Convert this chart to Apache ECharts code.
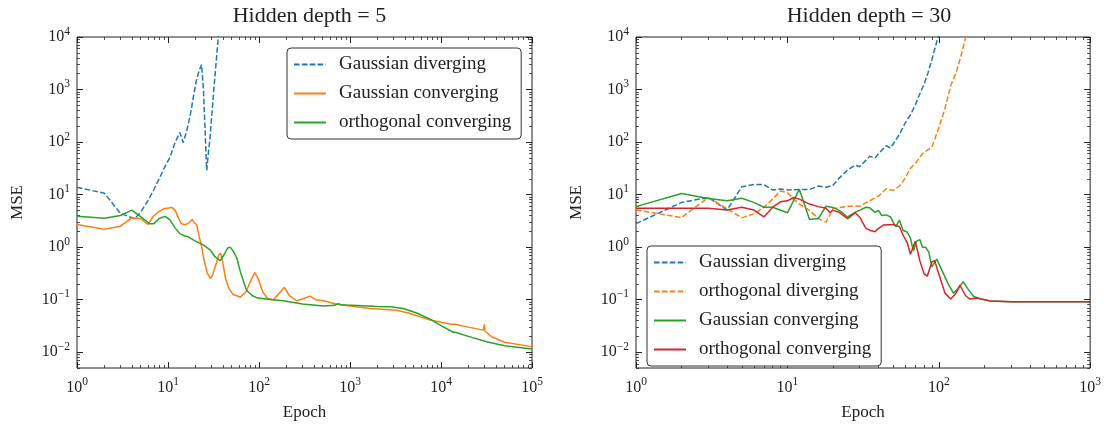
<!DOCTYPE html>
<html><head><meta charset="utf-8">
<script src="https://cdn.jsdelivr.net/npm/echarts@6/dist/echarts.min.js"></script>
<style>html,body{margin:0;padding:0;background:#fff}#c{width:1104px;height:426px}</style>
</head><body><div id="c"></div>
<script>
const FONT = '"Liberation Serif", "DejaVu Serif", serif';
const INK = '#222222';
const COLORS = {blue:'#1f77b4', orange:'#ff7f0e', green:'#2ca02c', red:'#d62728'};

// ---- titles / axes ----
const titles = ['Hidden depth = 5', 'Hidden depth = 30'];
const xMaxes = [1e5, 1e3];
const yMin = 0.005, yMax = 1e4;
const xName = 'Epoch', yName = 'MSE';

// ---- left panel (hidden depth = 5): [epoch, MSE] ----
const d5_gaussianDiverging = [[1,13.8],[2,10.6],[3,4.4],[4.3,3.45],[5,4.6],[6,7.6],[7,12.5],[8,20],[9,31],[10.5,51],[12,100],[13.5,152],[14.7,98],[15.4,105],[16,160],[17,250],[18,410],[19,720],[20.5,1500],[22,2300],[23.4,3000],[24.5,1000],[25.5,186],[26.6,29],[28,70],[29,123],[31.5,775],[35.7,10000],[38,20000]];
const d5_gaussianConverging = [[1,2.7],[2,2.19],[3,2.5],[4,3.6],[5,3.5],[6,2.7],[7,4.0],[8,4.8],[9,5.4],[11,5.7],[12,5.0],[13,3.6],[14,2.8],[15.4,2.67],[17,2.9],[18.5,3.34],[19.5,2.9],[20.7,2.67],[22,1.6],[23.5,1.0],[25,0.55],[27,0.32],[29.4,0.253],[31,0.3],[34,0.5],[36,0.7],[38,0.77],[40,0.5],[43,0.25],[47,0.16],[52,0.125],[62,0.112],[72,0.14],[82,0.24],[90,0.327],[98,0.25],[110,0.14],[125,0.105],[144,0.1],[165,0.13],[190,0.172],[215,0.12],[260,0.095],[310,0.105],[363,0.117],[420,0.1],[510,0.095],[714,0.082],[1000,0.076],[1660,0.068],[3250,0.063],[4500,0.055],[7600,0.041],[13000,0.034],[13600,0.036],[14200,0.034],[20000,0.03],[29200,0.0263],[30000,0.034],[30500,0.025],[36000,0.0197],[50000,0.0155],[95000,0.0129],[100000,0.0128]];
const d5_orthogonalConverging = [[1,3.85],[2,3.55],[3,4.0],[4,5.07],[5,3.8],[6.3,2.78],[7,2.8],[8,3.5],[9.3,3.85],[10.5,3.3],[12,2.3],[13.5,1.81],[15,1.65],[16.7,1.57],[20,1.3],[24.4,1.1],[29,0.89],[33,0.65],[37.3,0.55],[41,0.7],[45,0.95],[48,1.0],[52,0.85],[57,0.62],[63,0.32],[73,0.149],[84,0.12],[94,0.109],[140,0.1],[185,0.095],[300,0.083],[510,0.076],[680,0.078],[742,0.084],[800,0.08],[920,0.079],[2000,0.074],[2870,0.073],[2950,0.079],[3050,0.072],[3850,0.068],[5500,0.055],[7570,0.0427],[10000,0.032],[13650,0.024],[14000,0.026],[14400,0.024],[20000,0.02],[31800,0.0158],[50000,0.0133],[100000,0.0115]];

// ---- right panel (hidden depth = 30): [epoch, MSE] ----
const d30_gaussianDiverging = [[1,2.8],[2,7.1],[3,8.8],[4,5.1],[5,14.1],[6,15.5],[7,15.5],[8,12.2],[9,12.8],[10,12.2],[12,12.5],[14,12.5],[16,14.5],[18,13.8],[20,15],[22,20.6],[25,29.5],[28,36.5],[30,33.8],[35,53.5],[38,50],[40,60],[45,85],[48,77],[50,92],[55,140],[60,231],[65,330],[70,505],[75,830],[80,1260],[85,2080],[90,3700],[95,6500],[99,10000],[105,14000]];
const d30_orthogonalDiverging = [[1,5.1],[2,3.65],[3,8.8],[4,5.4],[5,3.6],[6,4.3],[7,5.75],[8,8.2],[9,11.7],[10,10.9],[11,8.2],[12,6.6],[14,5.0],[16,3.5],[18,3.0],[19,4.0],[20,5.4],[25,6.0],[30,6.0],[35,7.6],[40,9.4],[45,12.9],[50,12],[55,14.5],[60,20.6],[65,31.6],[70,39],[75,52],[80,64],[90,80],[95,123],[100,187],[110,440],[120,1180],[130,2080],[140,4250],[150,9300],[160,15000]];
const d30_gaussianConverging = [[1,5.9],[2,10.5],[3,8.4],[4,7.6],[5,8.5],[6,7.1],[7,5.75],[8,5.75],[10,4.5],[12,12.6],[14,3.35],[16,3.5],[18,6.0],[20,5.7],[22,5.0],[25,3.75],[28,4.6],[30,5.0],[33,5.75],[35,5.6],[38,4.6],[40,5.0],[42,4.0],[45,4.1],[48,3.75],[50,3.0],[52,2.45],[55,3.25],[58,2.1],[62,1.92],[65,1.49],[68,0.84],[71,1.29],[75,1.39],[78,0.99],[82,0.99],[86,0.8],[90,0.42],[97,0.59],[105,0.36],[115,0.204],[125,0.133],[135,0.164],[145,0.219],[155,0.164],[170,0.115],[190,0.103],[220,0.094],[300,0.091],[1000,0.091]];
const d30_orthogonalConverging = [[1,5.5],[2,5.5],[3,5.5],[4,5.1],[5,5.75],[6,5.1],[7,3.75],[8,5.75],[9,7.3],[10,7.6],[11,8.8],[12,8.2],[14,6.6],[16,5.9],[18,5.5],[19,4.6],[20,5.0],[22,4.6],[25,3.5],[28,4.5],[30,3.75],[33,2.28],[35,2.1],[38,1.97],[40,2.28],[43,2.63],[50,2.7],[55,2.45],[58,1.72],[62,1.2],[65,0.73],[70,1.29],[75,0.55],[80,0.31],[84,0.28],[90,0.52],[94,0.55],[100,0.31],[110,0.133],[120,0.103],[130,0.133],[138,0.19],[150,0.12],[160,0.103],[180,0.107],[220,0.094],[300,0.091],[1000,0.091]];

// ---- helpers ----
function pow10(k){ return Number('1e' + k); }
function majors(lo, hi){ const o=[]; for(let k=lo;k<=hi;k++) o.push(pow10(k)); return o; }
function minors(lo, hi){ const o=[]; for(let k=lo;k<hi;k++) for(let m=2;m<=9;m++) o.push(Number(m+'e'+k)); return o; }
function expLabel(v){
  const e = Math.round(Math.log10(v));
  return '{b|10}{s|' + (e < 0 ? '\u2212' + (-e) : e) + '}';
}
const richLbl = {
  b:{fontFamily:FONT, fontSize:16, color:INK},
  s:{fontFamily:FONT, fontSize:11.5, color:INK, padding:[0,0,11,0]}
};

const grids = [
  {left:77, top:37, width:455, height:338},
  {left:636, top:37, width:456, height:338}
];

const xAxes = [], yAxes = [], seriesList = [], titleList = [];
function addAxisSet(list, dim, gi, min, max, loExp, hiExp, minorLo, minorHi, name){
  const base = {type:'log', logBase:10, gridIndex:gi, min:min, max:max,
    axisLine:{show:false}, splitLine:{show:false}, axisPointer:{show:false}, silent:true};
  const sides = dim==='x' ? ['bottom','top'] : ['left','right'];
  let mainIndex = -1;
  sides.forEach((pos, si) => {
    const maj = Object.assign({}, base, {position:pos,
      axisTick:{show:true, inside:true, length:6, lineStyle:{color:INK, width:1}, customValues:majors(loExp, hiExp)},
      axisLabel: si===0 ? {show:true, customValues:majors(loExp, hiExp), formatter:expLabel, rich:richLbl,
                            margin: dim==='x'?8:7, hideOverlap:false} : {show:false}
    });
    if (si===0){
      maj.name = name; maj.nameLocation='middle';
      maj.nameGap = dim==='x' ? 36 : 51;
      maj.nameTextStyle = {fontFamily:FONT, fontSize:17, color:INK};
      mainIndex = list.length;
    }
    list.push(maj);
    list.push(Object.assign({}, base, {position:pos,
      axisTick:{show:true, inside:true, length:3, lineStyle:{color:INK, width:0.8}, customValues:minors(minorLo, minorHi)},
      axisLabel:{show:false}}));
  });
  return mainIndex;
}

const panels = [
  {series:[
    ['Gaussian diverging', d5_gaussianDiverging, COLORS.blue, 'dashed'],
    ['Gaussian converging', d5_gaussianConverging, COLORS.orange, 'solid'],
    ['orthogonal converging', d5_orthogonalConverging, COLORS.green, 'solid']
  ], legend:{left:287, top:48}},
  {series:[
    ['Gaussian diverging', d30_gaussianDiverging, COLORS.blue, 'dashed'],
    ['orthogonal diverging', d30_orthogonalDiverging, COLORS.orange, 'dashed'],
    ['Gaussian converging', d30_gaussianConverging, COLORS.green, 'solid'],
    ['orthogonal converging', d30_orthogonalConverging, COLORS.red, 'solid']
  ], legend:{left:647, top:246}}
];

const legends = [];
panels.forEach((p, gi) => {
  const xi = addAxisSet(xAxes, 'x', gi, 1, xMaxes[gi], 0, Math.round(Math.log10(xMaxes[gi])), 0, Math.round(Math.log10(xMaxes[gi])), xName);
  const yi = addAxisSet(yAxes, 'y', gi, yMin, yMax, -2, 4, -3, 4, yName);
  const names = [];
  p.series.forEach(s => {
    const id = gi + ':' + s[0];
    names.push(id);
    seriesList.push({
      type:'line', name:id, xAxisIndex:xi, yAxisIndex:yi, data:s[1],
      showSymbol:false, symbol:'none', clip:true, animation:false, silent:true,
      lineStyle:{color:s[2], width:1.5, type: s[3]==='dashed' ? [5.5,2.4] : 'solid'},
      itemStyle:{color:s[2]}
    });
  });
  legends.push({
    data:names, orient:'vertical', left:p.legend.left, top:p.legend.top,
    itemWidth:32, itemHeight:14, itemGap:10, selectedMode:false,
    padding:[7,10,7,6], backgroundColor:'#fff', borderColor:'#333', borderWidth:1, borderRadius:4,
    itemStyle:{color:'rgba(0,0,0,0)', borderColor:'rgba(0,0,0,0)', borderWidth:0, opacity:0},
    formatter: n => n.slice(n.indexOf(':')+1),
    textStyle:{fontFamily:FONT, fontSize:19, color:INK, padding:[0,0,0,8]}
  });
  titleList.push({text:titles[gi], left: grids[gi].left + grids[gi].width/2, top:0, textAlign:'center',
    textStyle:{fontFamily:FONT, fontSize:22, fontWeight:'normal', color:INK}});
});

const chart = echarts.init(document.getElementById('c'), null, {renderer:'canvas'});
chart.setOption({
  animation:false,
  backgroundColor:'#fff',
  title:titleList,
  grid: grids.map(g => Object.assign({show:true, borderColor:INK, borderWidth:1, backgroundColor:'transparent', containLabel:false}, g)),
  xAxis:xAxes, yAxis:yAxes,
  legend:legends,
  series:seriesList
});
</script></body></html>
